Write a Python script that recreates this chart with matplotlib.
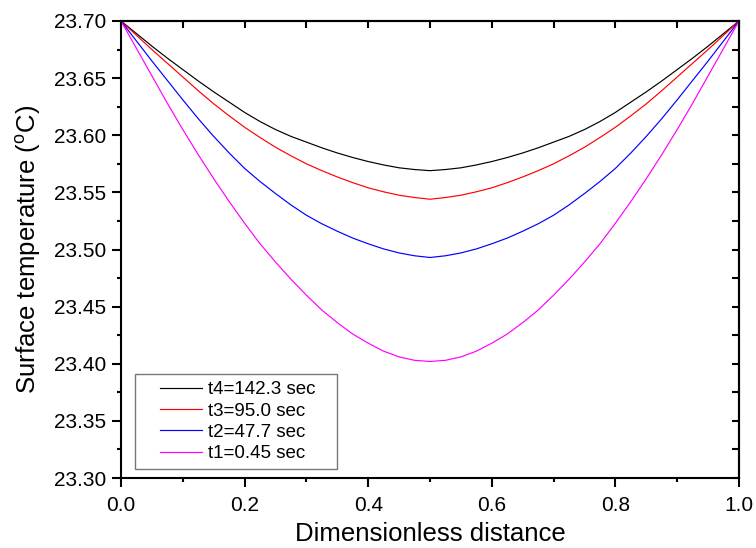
import matplotlib
matplotlib.use("Agg")
import matplotlib.pyplot as plt
from matplotlib.ticker import MultipleLocator, FormatStrFormatter

plt.rcParams['font.family'] = ['Liberation Sans', 'DejaVu Sans']
plt.rcParams['mathtext.fontset'] = 'custom'
plt.rcParams['mathtext.rm'] = 'Liberation Sans'

# Half-profile (0 .. 0.5); curves are symmetric about 0.5
x_half = [0.0, 0.025, 0.05, 0.075, 0.10, 0.125, 0.15, 0.175, 0.20, 0.225, 0.25,
          0.275, 0.30, 0.325, 0.35, 0.375, 0.40, 0.425, 0.45, 0.475, 0.50]
t4_half = [23.700, 23.689, 23.678, 23.6675, 23.6575, 23.6475, 23.638, 23.629, 23.620,
           23.612, 23.605, 23.599, 23.594, 23.589, 23.5845, 23.5805, 23.577, 23.574,
           23.5715, 23.570, 23.569]
t3_half = [23.700, 23.6875, 23.675, 23.663, 23.651, 23.639, 23.6275, 23.617, 23.607,
           23.598, 23.5895, 23.582, 23.575, 23.569, 23.5635, 23.5585, 23.554, 23.5505,
           23.5475, 23.5455, 23.544]
t2_half = [23.700, 23.6825, 23.665, 23.648, 23.631, 23.6145, 23.599, 23.5845, 23.571,
           23.5595, 23.549, 23.539, 23.530, 23.5225, 23.516, 23.510, 23.505, 23.5005,
           23.497, 23.4945, 23.493]
t1_half = [23.700, 23.676, 23.652, 23.628, 23.605, 23.583, 23.562, 23.542, 23.523,
           23.505, 23.489, 23.474, 23.460, 23.447, 23.436, 23.426, 23.418, 23.411,
           23.406, 23.403, 23.402]

labels = ["t4=142.3 sec", "t3=95.0 sec", "t2=47.7 sec", "t1=0.45 sec"]
colors = ["black", "red", "blue", "magenta"]


def full(xh, yh):
    xs = list(xh) + [1.0 - v for v in reversed(xh[:-1])]
    ys = list(yh) + list(reversed(yh[:-1]))
    return xs, ys


fig = plt.figure(figsize=(7.56, 5.48), dpi=100)
ax = fig.add_axes([121/756, 1 - 478/548, (739 - 121)/756, (478 - 21)/548])

for yh, lab, c in zip([t4_half, t3_half, t2_half, t1_half], labels, colors):
    xs, ys = full(x_half, yh)
    ax.plot(xs, ys, color=c, lw=0.85, label=lab)

ax.set_xlim(0, 1)
ax.set_ylim(23.30, 23.70)
ax.xaxis.set_major_locator(MultipleLocator(0.2))
ax.xaxis.set_minor_locator(MultipleLocator(0.1))
ax.yaxis.set_major_locator(MultipleLocator(0.05))
ax.yaxis.set_minor_locator(MultipleLocator(0.025))
ax.xaxis.set_major_formatter(FormatStrFormatter('%.1f'))
ax.yaxis.set_major_formatter(FormatStrFormatter('%.2f'))

for s in ax.spines.values():
    s.set_linewidth(1.5)

ax.tick_params(which='major', direction='out', length=6.5, width=1.5, labelsize=15, pad=4)
ax.tick_params(which='minor', direction='out', length=3.2, width=1.5)
ax.tick_params(axis='x', which='major', pad=6.5)

# top and right ticks pointing inward
secx = ax.secondary_xaxis('top')
secx.xaxis.set_major_locator(MultipleLocator(0.2))
secx.xaxis.set_minor_locator(MultipleLocator(0.1))
secx.tick_params(which='both', direction='in', length=5, width=1.5, labeltop=False)
secy = ax.secondary_yaxis('right')
secy.yaxis.set_major_locator(MultipleLocator(0.05))
secy.yaxis.set_minor_locator(MultipleLocator(0.025))
secy.tick_params(which='both', direction='in', length=5, width=1.5, labelright=False)
secx.spines['top'].set_linewidth(1.5)
secy.spines['right'].set_linewidth(1.5)

ax.set_xlabel("Dimensionless distance", fontsize=18.5, labelpad=5)
ax.set_ylabel("Surface temperature ($^{\\rm o}$C)", fontsize=18.5, labelpad=8)

leg = ax.legend(loc='lower left', bbox_to_anchor=(14/618, 9/457, 202/618, 0.1),
                mode='expand', fontsize=13.5,
                frameon=True, fancybox=False, handlelength=3.2, handletextpad=0.32,
                labelspacing=0.23, borderpad=0.35, borderaxespad=0)
leg.get_frame().set_edgecolor('#555555')
leg.get_frame().set_linewidth(1.0)
for h in leg.get_lines():
    h.set_linewidth(0.85)
    xd = list(h.get_xdata())
    yd = list(h.get_ydata())
    x0, x1 = xd[0], xd[-1]
    h.set_data([x0 + 0.31 * (x1 - x0), x1], [yd[0], yd[-1]])

fig.savefig("out.png", dpi=100)
